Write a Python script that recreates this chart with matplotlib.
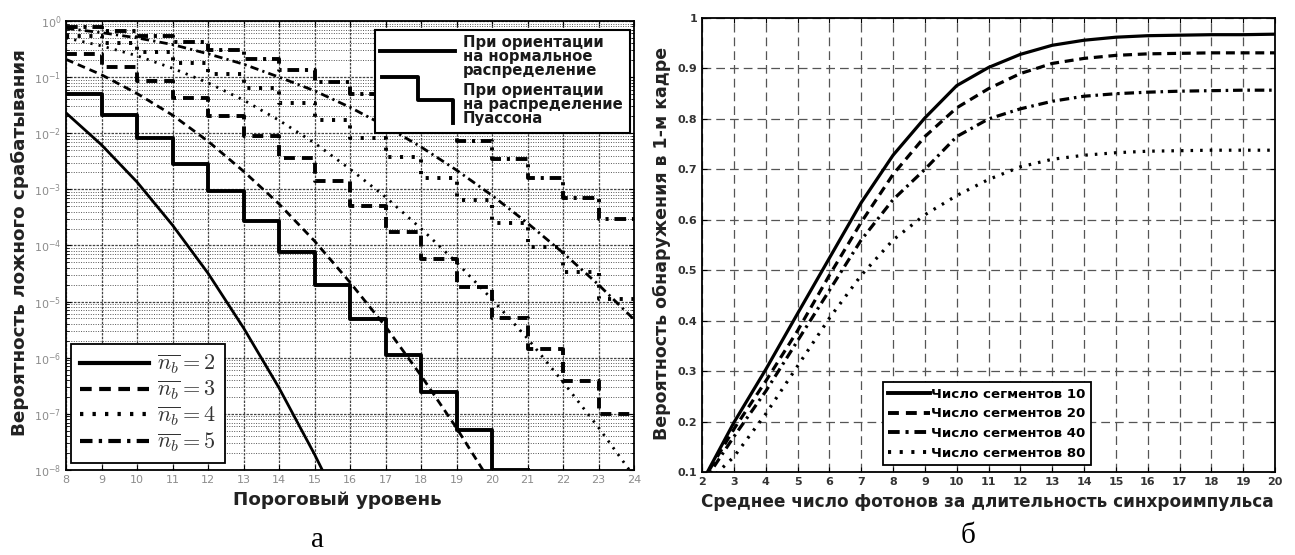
import matplotlib
import numpy as np

matplotlib.use("Agg")
import matplotlib.pyplot as plt
from matplotlib.lines import Line2D
from matplotlib.patches import Rectangle
from matplotlib.ticker import LogLocator, NullFormatter

plt.rcParams["font.family"] = ["DejaVu Sans"]
plt.rcParams["mathtext.fontset"] = "cm"

# ---- panel a: false alarm probability vs threshold level ----
# normal approximation (smooth curves)
thr_norm_nb2 = [8, 9, 10, 11, 12, 13, 14, 15, 16]
norm_nb2 = [2.3e-2, 6.2e-3, 1.35e-3, 2.3e-4, 3.2e-5, 3.4e-6, 2.9e-7, 1.9e-8, 1.0e-9]
thr_norm_nb3 = [8, 9, 10, 11, 12, 13, 14, 15, 16, 17, 18, 19, 20]
norm_nb3 = [0.207, 0.110, 0.051, 0.021, 7.2e-3, 2.1e-3, 5.5e-4, 1.2e-4, 2.2e-5,
            3.6e-6, 4.8e-7, 5.6e-8, 5.5e-9]
thr_norm_nb4 = [8, 9, 10, 11, 12, 13, 14, 15, 16, 17, 18, 19, 20, 21, 22, 23, 24]
norm_nb4 = [0.50, 0.36, 0.24, 0.144, 0.079, 0.039, 0.017, 6.7e-3, 2.3e-3, 7.3e-4,
            2.0e-4, 5.0e-5, 1.1e-5, 2.2e-6, 3.7e-7, 5.7e-8, 7.7e-9]
thr_norm_nb5 = [8, 9, 10, 11, 12, 13, 14, 15, 16, 17, 18, 19, 20, 21, 22, 23, 24]
norm_nb5 = [0.74, 0.62, 0.50, 0.38, 0.26, 0.17, 0.10, 0.057, 0.029, 0.0134,
            5.7e-3, 2.2e-3, 7.8e-4, 2.5e-4, 7.4e-5, 2.0e-5, 4.8e-6]

# Poisson distribution (step curves), level on [k, k+1)
thr_pois_nb2 = [8, 9, 10, 11, 12, 13, 14, 15, 16, 17, 18, 19, 20, 21]
pois_nb2 = [5.1e-2, 2.1e-2, 8.1e-3, 2.8e-3, 9.2e-4, 2.7e-4, 7.6e-5, 2.0e-5, 4.9e-6,
            1.1e-6, 2.5e-7, 5.2e-8, 1.0e-8, 1.0e-8]
thr_pois = [8, 9, 10, 11, 12, 13, 14, 15, 16, 17, 18, 19, 20, 21, 22, 23, 24]
pois_nb3 = [0.26, 0.15, 0.084, 0.043, 0.020, 8.8e-3, 3.6e-3, 1.4e-3, 5.1e-4, 1.75e-4,
            5.7e-5, 1.8e-5, 5.2e-6, 1.46e-6, 3.9e-7, 1.0e-7, 1.0e-7]
pois_nb4 = [0.55, 0.41, 0.28, 0.18, 0.112, 0.064, 0.034, 0.017, 8.2e-3, 3.7e-3,
            1.6e-3, 6.5e-4, 2.5e-4, 9.4e-5, 3.3e-5, 1.1e-5, 1.1e-5]
pois_nb5 = [0.78, 0.67, 0.54, 0.42, 0.30, 0.21, 0.136, 0.083, 0.049, 0.027,
            0.0143, 7.2e-3, 3.5e-3, 1.6e-3, 7.0e-4, 3.0e-4, 3.0e-4]

nb_labels = [r"$\overline{n_b} = 2$", r"$\overline{n_b} = 3$",
             r"$\overline{n_b} = 4$", r"$\overline{n_b} = 5$"]

# ---- panel б: detection probability vs mean photon number ----
photons = [2, 3, 4, 5, 6, 7, 8, 9, 10, 11, 12, 13, 14, 15, 16, 17, 18, 19, 20]
det_seg10 = [0.08, 0.198, 0.303, 0.414, 0.524, 0.634, 0.728, 0.802, 0.866, 0.902,
             0.928, 0.946, 0.956, 0.962, 0.965, 0.966, 0.967, 0.967, 0.968]
det_seg20 = [0.08, 0.185, 0.28, 0.38, 0.49, 0.595, 0.69, 0.765, 0.822, 0.86,
             0.89, 0.91, 0.92, 0.926, 0.929, 0.93, 0.931, 0.931, 0.931]
det_seg40 = [0.075, 0.17, 0.26, 0.36, 0.46, 0.56, 0.64, 0.70, 0.765, 0.80,
             0.82, 0.835, 0.845, 0.85, 0.853, 0.855, 0.856, 0.857, 0.857]
det_seg80 = [0.07, 0.13, 0.215, 0.31, 0.405, 0.49, 0.56, 0.61, 0.648, 0.68,
             0.705, 0.72, 0.728, 0.733, 0.736, 0.737, 0.738, 0.738, 0.738]
seg_labels = ["Число сегментов 10", "Число сегментов 20",
              "Число сегментов 40", "Число сегментов 80"]

SOLID = "-"
DASH = (0, (2.8, 1.8))
DOT = (0, (0.8, 2.2))
DASHDOT = (0, (3.0, 1.5, 0.8, 1.5))
LS_LEFT = [SOLID, DASH, DOT, DASHDOT]
LS_RIGHT = [SOLID, DASH, DASHDOT, DOT]

fig = plt.figure(figsize=(12.95, 5.55), dpi=100)

# ================= left panel =================
axL = fig.add_axes([0.0510, 0.1532, 0.4386, 0.8090])
axL.set_yscale("log")
axL.set_xlim(8, 24)
axL.set_ylim(1e-8, 1)
axL.set_xticks(range(8, 25))
axL.yaxis.set_major_locator(LogLocator(base=10, numticks=12))
axL.yaxis.set_minor_locator(LogLocator(base=10, subs=np.arange(2, 10), numticks=12))
axL.yaxis.set_minor_formatter(NullFormatter())
axL.grid(which="major", color="#444444", lw=0.9, ls=(0, (2, 1)))
axL.grid(which="minor", axis="y", color="#555555", lw=0.7, ls=(0, (1, 1.5)))
axL.tick_params(which="both", direction="in", top=True, right=True,
                labelsize=8, labelcolor="#8c8c8c")
axL.tick_params(which="minor", length=2)
for s in axL.spines.values():
    s.set_linewidth(1.3)

norm_sets = [(thr_norm_nb2, norm_nb2), (thr_norm_nb3, norm_nb3),
             (thr_norm_nb4, norm_nb4), (thr_norm_nb5, norm_nb5)]
pois_sets = [(thr_pois_nb2, pois_nb2), (thr_pois, pois_nb3),
             (thr_pois, pois_nb4), (thr_pois, pois_nb5)]
for (xs, ys), ls in zip(norm_sets, LS_LEFT):
    axL.plot(xs, ys, color="k", lw=2.0, ls=ls, zorder=3)
for (xs, ys), ls in zip(pois_sets, LS_LEFT):
    axL.step(xs, ys, where="post", color="k", lw=2.8, ls=ls, zorder=3)

# legend of line styles (bottom left)
handles = [Line2D([], [], color="k", lw=3, ls=ls) for ls in LS_LEFT]
legL = axL.legend(handles, nb_labels, loc="lower left", bbox_to_anchor=(0.009, 0.0156),
                  borderaxespad=0, fontsize=16, handlelength=3.1, handletextpad=0.35,
                  labelspacing=0.12, fancybox=False, edgecolor="k", framealpha=1,
                  labelcolor="#333333")
legL.get_frame().set_linewidth(1.3)
legL.set_zorder(6)

# legend of distribution type (top right), drawn by hand
tr = axL.transAxes
axL.add_patch(Rectangle((0.544, 0.7506), 0.449, 0.2294, transform=tr, facecolor="white",
                        edgecolor="k", lw=1.5, zorder=7))
axL.add_line(Line2D([0.553, 0.685], [0.933, 0.933], transform=tr, color="k", lw=2.8,
                    zorder=8))
axL.add_line(Line2D([0.556, 0.620, 0.620, 0.681, 0.681],
                    [0.875, 0.875, 0.824, 0.824, 0.773], transform=tr, color="k",
                    lw=2.8, zorder=8))
legend_lines = [("При ориентации", 0.953), ("на нормальное", 0.921),
                ("распределение", 0.889), ("При ориентации", 0.846),
                ("на распределение", 0.814), ("Пуассона", 0.782)]
for txt, yy in legend_lines:
    axL.text(0.699, yy, txt, transform=tr, fontsize=10.7, fontweight="bold",
             color="#1a1a1a", ha="left", va="center", zorder=8)

# ================= right panel =================
axR = fig.add_axes([0.5421, 0.1495, 0.4425, 0.8180])
axR.set_xlim(2, 20)
axR.set_ylim(0.1, 1)
axR.set_xticks(range(2, 21))
yt = np.round(np.arange(0.1, 1.01, 0.1), 1)
axR.set_yticks(yt)
axR.set_yticklabels(["0.1", "0.2", "0.3", "0.4", "0.5", "0.6", "0.7", "0.8", "0.9", "1"])
axR.grid(True, color="#555555", lw=0.9, ls=(0, (7, 4)))
axR.tick_params(direction="in", top=True, right=True, labelsize=8, labelcolor="#333333")
for lab in axR.get_xticklabels() + axR.get_yticklabels():
    lab.set_fontweight("bold")
for s in axR.spines.values():
    s.set_linewidth(1.3)

for ys, ls in zip([det_seg10, det_seg20, det_seg40, det_seg80], LS_RIGHT):
    axR.plot(photons, ys, color="k", lw=2.3, ls=ls)

handlesR = [Line2D([], [], color="k", lw=2.8, ls=ls) for ls in LS_RIGHT]
legR = axR.legend(handlesR, seg_labels, loc="lower left", bbox_to_anchor=(0.316, 0.0154),
                  borderaxespad=0, prop={"size": 9.6, "weight": "bold"}, handlelength=3.1,
                  handletextpad=0.1, labelspacing=0.5, fancybox=False, edgecolor="k",
                  framealpha=1)
legR.get_frame().set_linewidth(1.3)

# ================= labels =================
fig.text(20 / 1295, 1 - 243 / 555, "Вероятность ложного срабатывания", rotation=90,
         ha="center", va="center", fontsize=13.2, fontweight="bold", color="#222222")
fig.text(337 / 1295, 1 - 500 / 555, "Пороговый уровень", ha="center", va="center",
         fontsize=13.2, fontweight="bold", color="#222222")
fig.text(662 / 1295, 1 - 243 / 555, "Вероятность обнаружения в 1-м кадре", rotation=90,
         ha="center", va="center", fontsize=12.5, fontweight="bold", color="#222222")
fig.text(987 / 1295, 1 - 502 / 555, "Среднее число фотонов за длительность синхроимпульса",
         ha="center", va="center", fontsize=12.2, fontweight="bold", color="#222222")
fig.text(318 / 1295, 1 - 540 / 555, "а", ha="center", va="center", fontsize=21,
         family="Liberation Serif")
fig.text(968 / 1295, 1 - 536 / 555, "б", ha="center", va="center", fontsize=21,
         family="Liberation Serif")

fig.savefig("out.png", dpi=100)
